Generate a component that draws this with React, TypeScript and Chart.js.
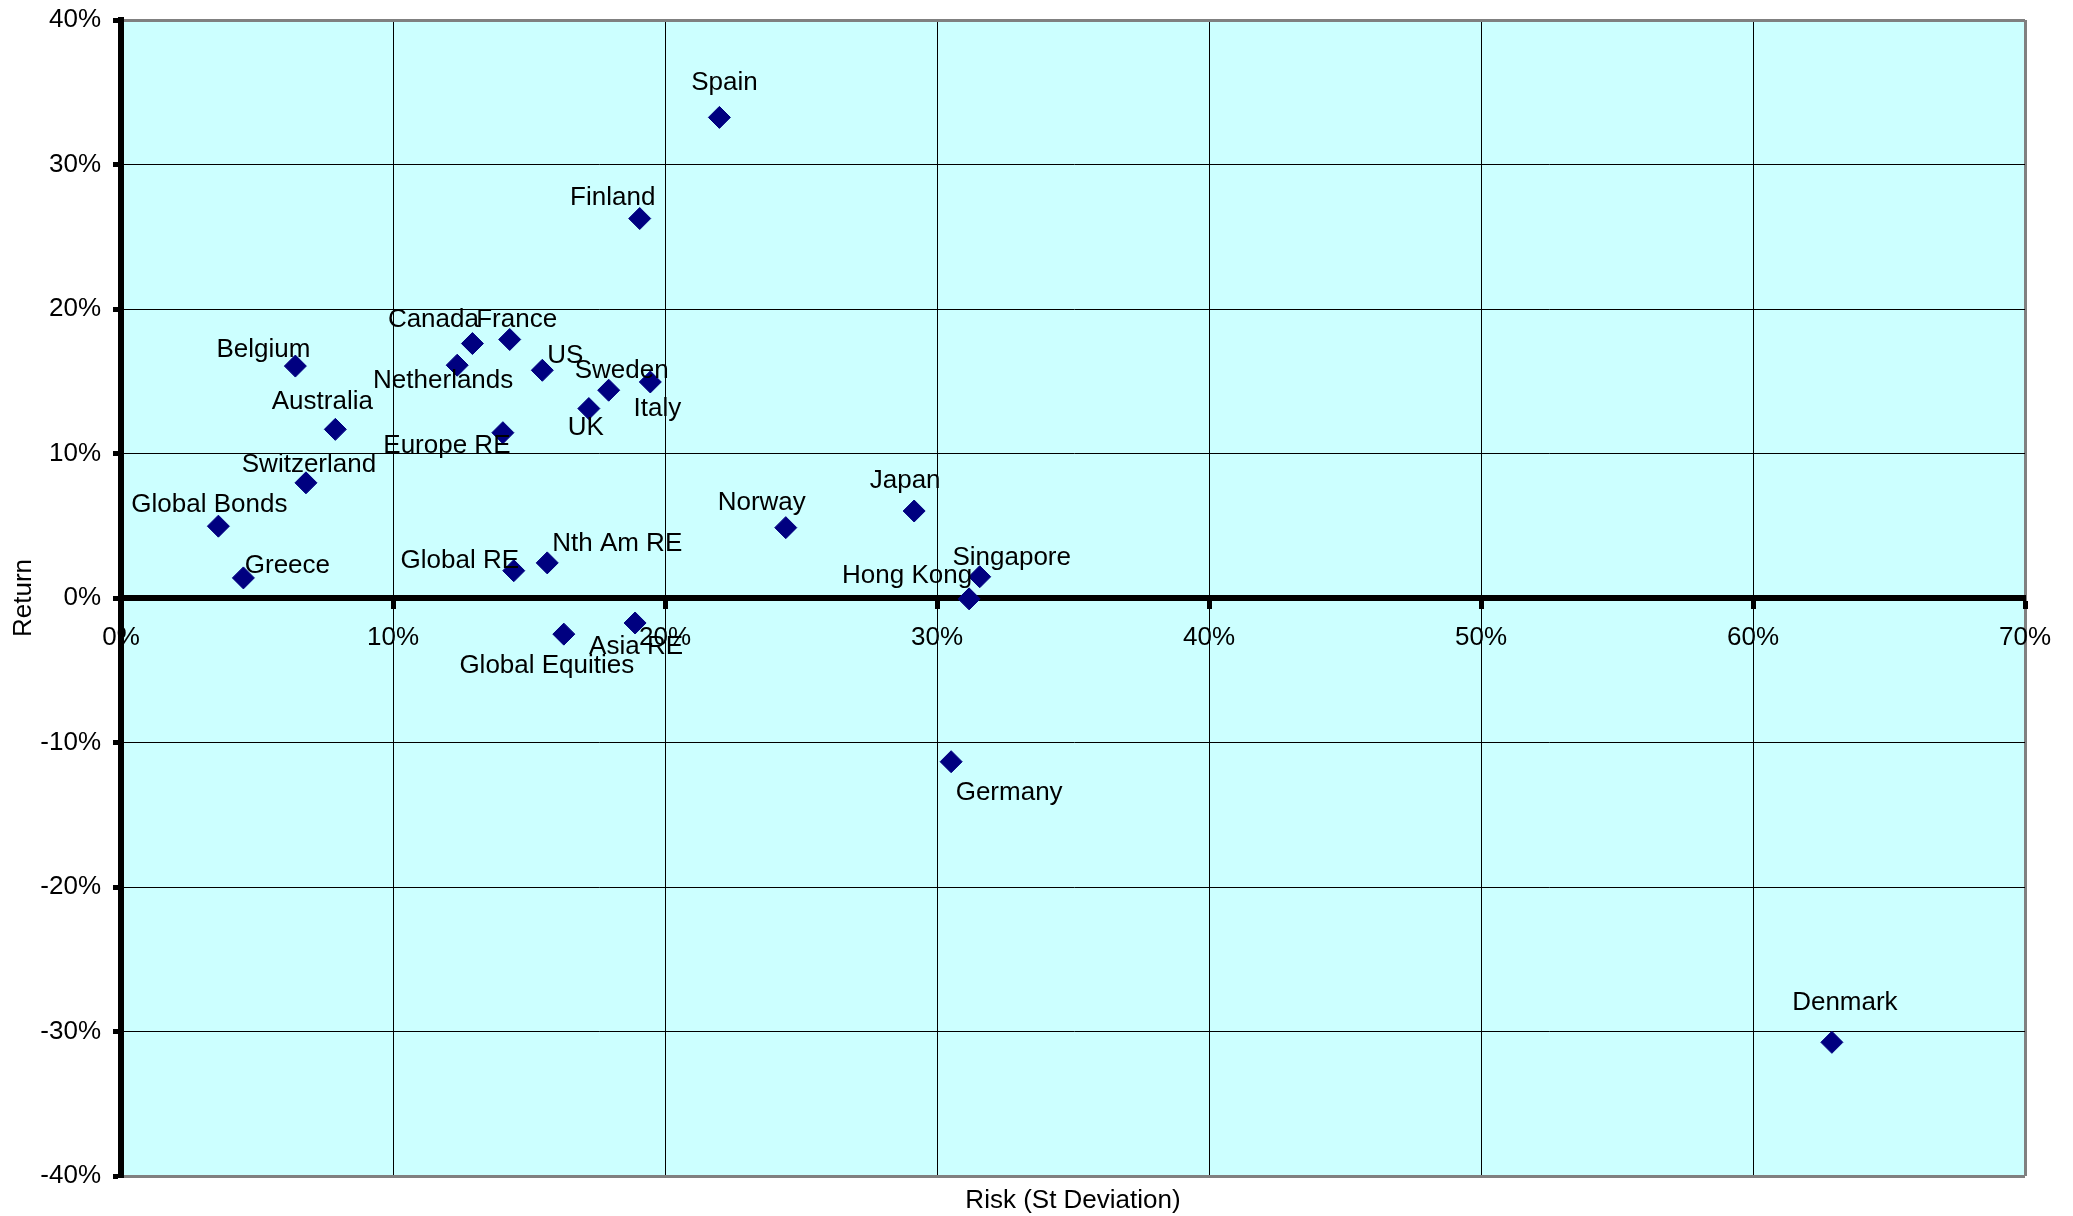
import React, { useEffect, useRef } from 'react';
import { Chart, registerables } from 'chart.js';

Chart.register(...registerables);

const FONT = '"Liberation Sans", Arial, sans-serif';

const names = [
  'Spain', 'Finland', 'Canada', 'France', 'Belgium', 'Netherlands', 'US', 'Sweden', 'Italy', 'UK',
  'Australia', 'Europe RE', 'Switzerland', 'Global Bonds', 'Greece', 'Global RE', 'Nth Am RE',
  'Norway', 'Japan', 'Singapore', 'Hong Kong', 'Global Equities', 'Asia RE', 'Germany', 'Denmark',
];

const riskValues = [
  22.0, 19.07, 12.92, 14.29, 6.41, 12.36, 15.49, 17.93, 19.46, 17.2,
  7.88, 14.04, 6.8, 3.58, 4.5, 14.44, 15.67,
  24.44, 29.16, 31.57, 31.18, 16.28, 18.9, 30.52, 62.9,
];

const returnValues = [
  33.26, 26.26, 17.61, 17.89, 16.05, 16.11, 15.76, 14.38, 14.95, 13.11,
  11.67, 11.44, 7.97, 4.97, 1.39, 1.89, 2.43,
  4.87, 6.02, 1.47, -0.06, -2.5, -1.73, -11.33, -30.75,
];

// label placement relative to its point (style only)
const labelOffsets: [number, number][] = [
  [5, -35], [-27, -21], [-39, -24], [7, -20], [-32, -16], [-14, 16], [23, -14], [13, -19], [7, 27], [-3, 19],
  [-13, -28], [-56, 13], [3, -18], [-9, -21], [44, -12], [-54, -10], [70, -19],
  [-24, -25], [-9, -30], [32, -19], [-62, -23], [-17, 32], [1, 24], [58, 31], [13, -40],
];

const xTitle = 'Risk (St Deviation)';
const yTitle = 'Return';

const plotBackground = {
  id: 'plotBackground',
  beforeDraw(chart: any) {
    const { ctx, chartArea } = chart;
    ctx.save();
    ctx.fillStyle = '#CCFFFF';
    ctx.fillRect(chartArea.left, chartArea.top, chartArea.right - chartArea.left, chartArea.bottom - chartArea.top);
    ctx.restore();
  },
};

const pointLabels = {
  id: 'pointLabels',
  afterDatasetsDraw(chart: any) {
    const meta = chart.getDatasetMeta(0);
    const ctx = chart.ctx;
    ctx.save();
    ctx.font = `26px ${FONT}`;
    ctx.fillStyle = '#000';
    ctx.textAlign = 'center';
    ctx.textBaseline = 'middle';
    meta.data.forEach((el: any, i: number) => {
      const [dx, dy] = labelOffsets[i];
      ctx.fillText(names[i], el.x + dx, el.y + dy);
    });
    ctx.restore();
  },
};

export default function App() {
  const canvasRef = useRef<HTMLCanvasElement | null>(null);

  useEffect(() => {
    if (!canvasRef.current) return;
    const chart = new Chart(canvasRef.current, {
      type: 'scatter',
      data: {
        datasets: [
          {
            data: riskValues.map((x, i) => ({ x, y: returnValues[i] })),
            pointStyle: 'rectRot',
            pointRadius: 11,
            pointHoverRadius: 11,
            backgroundColor: '#000080',
            borderColor: '#000080',
            borderWidth: 1,
          },
        ],
      },
      options: {
        animation: false,
        responsive: false,
        devicePixelRatio: 1,
        layout: { padding: { left: 0, right: 48, top: 20, bottom: 0 } },
        plugins: {
          legend: { display: false },
          tooltip: { enabled: false },
        },
        scales: {
          x: {
            type: 'linear',
            position: { y: 0 } as any,
            min: 0,
            max: 70,
            ticks: {
              stepSize: 10,
              callback: (v: any) => v + '%',
              font: { family: FONT, size: 26 },
              color: '#000',
              padding: 16,
              maxRotation: 0,
            },
            grid: {
              color: (c: any) => (c.tick && c.tick.value === 70 ? '#808080' : '#000'),
              lineWidth: (c: any) => (c.tick && c.tick.value === 70 ? 3 : 1),
              tickLength: 8,
              tickWidth: 5,
              tickColor: '#000',
            },
            border: { display: true, width: 6, color: '#000' },
          },
          x2: {
            type: 'linear',
            position: 'bottom',
            min: 0,
            max: 70,
            ticks: { display: false },
            grid: { display: false, drawTicks: false },
            border: { display: false },
            title: {
              display: true,
              text: xTitle,
              font: { family: FONT, size: 26 },
              color: '#000',
              padding: 0,
            },
            afterFit: (s: any) => {
              s.height = 40;
            },
          },
          y: {
            type: 'linear',
            position: 'left',
            min: -40,
            max: 40,
            ticks: {
              stepSize: 10,
              callback: (v: any) => v + '%',
              font: { family: FONT, size: 26 },
              color: '#000',
              padding: 12,
            },
            grid: {
              color: (c: any) => (c.tick && Math.abs(c.tick.value) === 40 ? '#808080' : '#000'),
              lineWidth: (c: any) => (c.tick && Math.abs(c.tick.value) === 40 ? 3 : 1),
              tickLength: 8,
              tickWidth: 5,
              tickColor: '#000',
            },
            border: { display: true, width: 6, color: '#000' },
            title: {
              display: true,
              text: yTitle,
              font: { family: FONT, size: 26 },
              color: '#000',
              padding: { top: 8, bottom: 0 },
            },
            afterFit: (s: any) => {
              s.width = 121;
              s.paddingTop = 14;
              s.paddingBottom = 14;
            },
          },
        },
      } as any,
      plugins: [plotBackground, pointLabels],
    });
    return () => chart.destroy();
  }, []);

  return (
    <div style={{ position: 'absolute', left: 0, top: 0, width: 2073, height: 1216, background: '#fff' }}>
      <canvas ref={canvasRef} width={2073} height={1216} style={{ display: 'block', width: 2073, height: 1216 }} />
    </div>
  );
}
